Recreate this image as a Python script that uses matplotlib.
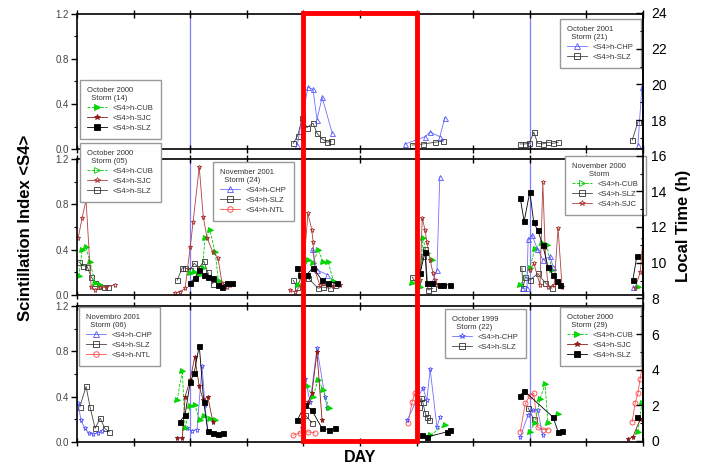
import numpy as np
import matplotlib
matplotlib.use("Agg")
import matplotlib.pyplot as plt
from matplotlib.lines import Line2D
from matplotlib.patches import Rectangle
from matplotlib.ticker import MultipleLocator, FormatStrFormatter

plt.rcParams["font.family"] = ["Liberation Sans", "DejaVu Sans"]

# days (x) and <S4> (y); None separates storm days
top_chp_day = [3.89, 4.08, 4.17, 4.24, 4.33, 4.51, None, 5.80, 6.15, 6.24, 6.41, 6.50, None, 9.91, 9.98]
top_chp_s4 = [0.035, 0.55, 0.53, 0.26, 0.46, 0.14, None, 0.045, 0.11, 0.15, 0.11, 0.28, None, 0.035, 0.55]
top_slz_day = [3.82, 3.90, 3.98, 4.06, 4.17, 4.24, 4.33, 4.42, 4.49, None,
               5.92, 6.11, 6.33, 6.47, None,
               7.83, 7.92, 7.99, 8.07, 8.14, 8.23, 8.32, 8.41, 8.50, None, 9.81, 9.91]
top_slz_s4 = [0.05, 0.12, 0.28, 0.19, 0.23, 0.14, 0.09, 0.06, 0.07, None,
              0.035, 0.045, 0.06, 0.07, None,
              0.045, 0.045, 0.05, 0.15, 0.05, 0.045, 0.06, 0.05, 0.06, None, 0.08, 0.24]

mid_sjc_day = [0.02, 0.09, 0.16, 0.25, 0.32, 0.41, 0.51, 0.67, None,
               1.73, 1.82, 1.91, 2.00, 2.05, 2.16, 2.23, 2.30, 2.40, 2.49, 2.56, 2.65, 2.70, None,
               3.76, 3.85, 3.98, 4.08, 4.15, 4.17, 4.20, 4.29, 4.42, 4.52, 4.65, None,
               6.06, 6.10, 6.15, 6.18, 6.24, 6.29, 6.33, 6.38, None,
               8.00, 8.07, 8.18, 8.23, 8.27, 8.32, 8.43, 8.50, 8.57, None,
               9.86, 9.95, 10.0]
mid_sjc_s4 = [0.50, 0.68, 0.84, 0.07, 0.044, 0.07, 0.07, 0.09, None,
              0.018, 0.026, 0.06, 0.42, 0.64, 1.13, 0.69, 0.50, 0.38, 0.33, 0.11, 0.07, 0.09, None,
              0.044, 0.026, 0.10, 0.72, 0.57, 0.47, 0.22, 0.09, 0.09, 0.08, 0.09, None,
              0.13, 0.68, 0.57, 0.47, 0.31, 0.19, 0.13, 0.09, None,
              0.22, 0.28, 0.09, 1.00, 0.42, 0.07, 0.09, 0.59, 0.07, None,
              0.06, 0.20, 0.49]
mid_cub_day = [0.035, 0.09, 0.16, 0.23, 0.32, 0.41, None,
               2.00, 2.07, 2.16, 2.22, 2.26, 2.35, 2.44, 2.50, None,
               3.90, 4.08, 4.17, 4.26, 4.35, 4.44, 4.53, None,
               5.92, 6.06, 6.11, 6.18, 6.27, None,
               7.83, 8.00, 8.09, 8.22, 8.30, 8.39, None, 9.91]
mid_cub_s4 = [0.17, 0.40, 0.42, 0.29, 0.11, 0.09, None,
              0.19, 0.20, 0.18, 0.24, 0.50, 0.57, 0.38, 0.12, None,
              0.09, 0.31, 0.28, 0.40, 0.29, 0.29, 0.12, None,
              0.11, 0.07, 0.50, 0.37, 0.31, None,
              0.09, 0.24, 0.41, 0.46, 0.44, 0.22, None, 0.07]
mid_slz_day = [2.00, 2.08, 2.16, 2.24, 2.31, 2.40, 2.49, 2.56, 2.65, 2.74, None,
               3.89, 3.94, 4.06, 4.17, 4.33, 4.43, 4.59, None,
               6.06, 6.15, 6.18, 6.27, 6.41, 6.47, 6.59, None,
               7.83, 7.90, 8.00, 8.07, 8.14, 8.23, 8.32, 8.41, 8.48, 8.53, None, 9.82, 9.89]
mid_slz_s4 = [0.11, 0.15, 0.22, 0.18, 0.16, 0.15, 0.09, 0.07, 0.11, 0.11, None,
              0.24, 0.18, 0.18, 0.24, 0.13, 0.11, 0.11, None,
              0.19, 0.38, 0.11, 0.11, 0.09, 0.09, 0.09, None,
              0.86, 0.65, 0.91, 0.64, 0.57, 0.44, 0.25, 0.18, 0.12, 0.09, None, 0.13, 0.34]
mid_slzo_day = [0.035, 0.11, 0.18, 0.25, 0.32, 0.39, 0.48, 0.55, None,
                1.77, 1.86, 1.91, 2.00, 2.07, 2.16, 2.24, 2.31, 2.40, None,
                3.82, 3.89, 3.98, 4.08, 4.26, 4.35, 4.47, 4.56, None,
                5.92, 6.01, 6.11, 6.15, 6.20, 6.29, None,
                7.86, 7.88, 7.92, 8.00, 8.14, 8.27, 8.39]
mid_slzo_s4 = [0.29, 0.26, 0.25, 0.16, 0.11, 0.08, 0.07, 0.07, None,
               0.13, 0.24, 0.24, 0.22, 0.28, 0.24, 0.30, 0.20, 0.10, None,
               0.13, 0.07, 0.18, 0.15, 0.06, 0.07, 0.06, 0.09, None,
               0.16, 0.09, 0.34, 0.41, 0.044, 0.06, None,
               0.24, 0.06, 0.16, 0.13, 0.19, 0.11, 0.06]
mid_chp_day = [4.15, 4.24, 4.42, None, 6.27, 6.36, 6.41, None,
               7.86, 7.95, 7.97, 8.04, 8.13, 8.23, 8.36, 8.41, None, 9.82]
mid_chp_s4 = [0.41, 0.22, 0.18, None, 0.11, 0.22, 1.04, None,
              0.06, 0.06, 0.49, 0.53, 0.41, 0.31, 0.34, 0.25, None, 0.07]

bot_chps_day = [0.02, 0.07, 0.14, 0.21, 0.28, 0.37, 0.44, None,
                1.94, 2.03, 2.12, 2.21, 2.26, 2.31, None,
                3.98, 4.03, 4.12, 4.24, 4.38, 4.42, None,
                5.83, 6.11, 6.18, 6.24, 6.36, 6.41, None,
                7.83, 7.97, 8.06, 8.14, 8.23]
bot_chps_s4 = [0.34, 0.19, 0.12, 0.08, 0.07, 0.08, 0.10, None,
               0.12, 0.10, 0.11, 0.67, 0.33, 0.09, None,
               0.12, 0.56, 0.35, 0.83, 0.40, 0.30, None,
               0.19, 0.48, 0.37, 0.64, 0.13, 0.22, None,
               0.044, 0.24, 0.28, 0.28, 0.06]
bot_slzo_day = [0.05, 0.16, 0.23, 0.32, 0.41, 0.49, 0.57, None,
                4.03, 4.15, None, 6.04, 6.08, 6.11, 6.15, 6.18, 6.22, None, 7.97, 8.07]
bot_slzo_s4 = [0.31, 0.49, 0.31, 0.12, 0.21, 0.12, 0.09, None,
               0.24, 0.17, None, 0.31, 0.39, 0.35, 0.26, 0.22, 0.19, None, 0.30, 0.20]
bot_cub_day = [1.77, 1.86, 1.91, 2.00, 2.08, 2.17, 2.24, 2.35, 2.44, None,
               4.06, 4.17, 4.26, 4.35, 4.45, None, 6.24, 6.50, None,
               8.00, 8.09, 8.18, 8.27, 8.32, 8.50, None, 9.91, 9.98]
bot_cub_s4 = [0.37, 0.63, 0.12, 0.32, 0.33, 0.19, 0.23, 0.20, 0.19, None,
              0.49, 0.40, 0.55, 0.46, 0.30, None, 0.06, 0.15, None,
              0.09, 0.17, 0.38, 0.51, 0.17, 0.25, None, 0.09, 0.34]
bot_sjc_day = [1.77, 1.86, 1.91, 2.00, 2.08, 2.16, 2.23, 2.31, 2.40, None,
               4.08, 4.15, 4.24, 4.33, None, 9.73, 9.82, 9.95]
bot_sjc_s4 = [0.035, 0.035, 0.40, 0.55, 0.75, 0.49, 0.37, 0.40, 0.18, None,
              0.35, 0.43, 0.79, 0.19, None, 0.026, 0.044, 0.20]
bot_slz_day = [1.82, 1.91, 2.00, 2.07, 2.16, 2.24, 2.31, 2.40, 2.49, 2.58, None,
               3.89, 4.03, 4.15, 4.33, 4.45, 4.56, None, 6.10, 6.18, 6.54, 6.59, None,
               7.83, 7.90, 8.41, 8.50, 8.57, None, 9.89]
bot_slz_s4 = [0.18, 0.24, 0.53, 0.61, 0.85, 0.35, 0.10, 0.08, 0.07, 0.08, None,
              0.19, 0.33, 0.28, 0.12, 0.11, 0.12, None, 0.06, 0.044, 0.09, 0.11, None,
              0.41, 0.45, 0.22, 0.09, 0.10, None, 0.22]
bot_ntl_day = [3.82, 3.94, 4.08, 4.20, None, 5.85, 5.92, 5.97, None,
               7.83, 7.92, 8.00, 8.07, 8.14, 8.23, 8.32, None, 9.81, 9.86, 9.91, 9.95, 10.0]
bot_ntl_s4 = [0.06, 0.08, 0.09, 0.08, None, 0.17, 0.35, 0.43, None,
              0.09, 0.34, 0.41, 0.43, 0.13, 0.11, 0.11, None, 0.18, 0.34, 0.43, 0.56, 0.71]

lt_jump_days = [2, 8]       # local-time lines (blue verticals)
box_days = [4, 6]           # highlighted interval

STYLE = {
    "CUB": dict(color="#00cc00", ls="--", marker=">", mfc="#00dd00", mec="#00cc00"),
    "CUBo": dict(color="#00cc00", ls="--", marker=">", mfc="none", mec="#00cc00"),
    "SJC": dict(color="#8b1a1a", ls="-", marker="*", mfc="#8b1a1a", mec="#8b1a1a"),
    "SJCo": dict(color="#b04040", ls="-", marker="*", mfc="none", mec="#a83232"),
    "SLZ": dict(color="black", ls="-", marker="s", mfc="black", mec="black"),
    "SLZo": dict(color="#444444", ls="-", marker="s", mfc="none", mec="#333333"),
    "CHP": dict(color="#6f6fff", ls="-", marker="^", mfc="none", mec="#5555ff"),
    "CHPs": dict(color="#6f6fff", ls="-", marker="*", mfc="none", mec="#5555ff"),
    "NTL": dict(color="#ff5050", ls="-", marker="o", mfc="none", mec="#ff4040"),
}


def _arr(v):
    return np.array([np.nan if x is None else x for x in v], dtype=float)


def _plot(ax, days, s4, key, ms=3.6):
    st = STYLE[key]
    ax.plot(_arr(days), _arr(s4), color=st["color"], ls=st["ls"], lw=0.6,
            marker=st["marker"], mfc=st["mfc"], mec=st["mec"], ms=ms, mew=0.6)


def _legend(ax, title, entries, anchor):
    handles = []
    for label, key in entries:
        st = STYLE[key]
        handles.append(Line2D([], [], color=st["color"], ls=st["ls"], lw=0.6,
                              marker=st["marker"], mfc=st["mfc"], mec=st["mec"], ms=4, mew=0.6,
                              label=label))
    leg = ax.legend(handles=handles, title=title, loc="upper left",
                    bbox_to_anchor=anchor, bbox_transform=fig.transFigure,
                    fontsize=5.5, title_fontsize=5.5, frameon=True, fancybox=False,
                    borderaxespad=0, handlelength=2.6, labelspacing=0.35,
                    borderpad=0.9, alignment="left", framealpha=1)
    leg.get_frame().set_edgecolor("#999999")
    leg.get_frame().set_linewidth(1.0)
    for t in leg.get_texts():
        t.set_color("#333333")
    leg.get_title().set_color("#333333")
    return leg


W, H = 703, 467
fig = plt.figure(figsize=(W / 100, H / 100), dpi=100)


def _px_axes(y_top, y_bot):
    return fig.add_axes([77 / W, 1 - y_bot / H, 566 / W, (y_bot - y_top) / H])


panels = [_px_axes(14, 149), _px_axes(159, 295), _px_axes(306, 442)]
for ax in panels:
    ax.set_xlim(0, 10)
    ax.set_ylim(0, 1.2)
    ax.yaxis.set_major_locator(MultipleLocator(0.4))
    ax.yaxis.set_minor_locator(MultipleLocator(0.2))
    ax.yaxis.set_major_formatter(FormatStrFormatter("%.1f"))
    ax.xaxis.set_major_locator(MultipleLocator(1))
    ax.tick_params(axis="y", which="major", direction="out", length=4, width=1,
                   labelsize=7, labelcolor="#444444", pad=2)
    ax.tick_params(axis="y", which="minor", direction="out", length=2, width=0.8)
    ax.tick_params(axis="x", which="major", direction="inout", length=6, width=1,
                   top=True, bottom=True, labelbottom=False)
    for s in ax.spines.values():
        s.set_linewidth(1.2)
    for d in lt_jump_days:
        ax.axvline(d, color="#7f7fff", lw=0.9, zorder=1)

ax_top, ax_mid, ax_bot = panels

_plot(ax_top, top_slz_day, top_slz_s4, "SLZo")
_plot(ax_top, top_chp_day, top_chp_s4, "CHP")

_plot(ax_mid, mid_slzo_day, mid_slzo_s4, "SLZo")
_plot(ax_mid, mid_cub_day, mid_cub_s4, "CUB")
_plot(ax_mid, mid_chp_day, mid_chp_s4, "CHP")
_plot(ax_mid, mid_sjc_day, mid_sjc_s4, "SJCo")
_plot(ax_mid, mid_slz_day, mid_slz_s4, "SLZ")

_plot(ax_bot, bot_slzo_day, bot_slzo_s4, "SLZo")
_plot(ax_bot, bot_ntl_day, bot_ntl_s4, "NTL")
_plot(ax_bot, bot_chps_day, bot_chps_s4, "CHPs")
_plot(ax_bot, bot_cub_day, bot_cub_s4, "CUB")
_plot(ax_bot, bot_sjc_day, bot_sjc_s4, "SJC")
_plot(ax_bot, bot_slz_day, bot_slz_s4, "SLZ")

# legends (one per storm)
l1 = _legend(ax_top, "October 2000\n  Storm (14)",
             [("<S4>h-CUB", "CUB"), ("<S4>h-SJC", "SJC"), ("<S4>h-SLZ", "SLZ")], (80 / W, 1 - 80 / H))
ax_top.add_artist(l1)
_legend(ax_top, "October 2001\n  Storm (21)",
        [("<S4>h-CHP", "CHP"), ("<S4>h-SLZ", "SLZo")], (560 / W, 1 - 19 / H))

l2 = _legend(ax_mid, "October 2000\n  Storm (05)",
             [("<S4>h-CUB", "CUBo"), ("<S4>h-SJC", "SJCo"), ("<S4>h-SLZ", "SLZo")], (80 / W, 1 - 143 / H))
ax_mid.add_artist(l2)
l3 = _legend(ax_mid, "November 2001\n  Storm (24)",
             [("<S4>h-CHP", "CHP"), ("<S4>h-SLZ", "SLZo"), ("<S4>h-NTL", "NTL")], (213 / W, 1 - 162 / H))
ax_mid.add_artist(l3)
_legend(ax_mid, "November 2000\n        Storm",
        [("<S4>h-CUB", "CUBo"), ("<S4>h-SLZ", "SLZo"), ("<S4>h-SJC", "SJCo")], (565 / W, 1 - 156 / H))

l4 = _legend(ax_bot, "Novembro 2001\n  Storm (06)",
             [("<S4>h-CHP", "CHP"), ("<S4>h-SLZ", "SLZo"), ("<S4>h-NTL", "NTL")], (79 / W, 1 - 307 / H))
ax_bot.add_artist(l4)
l5 = _legend(ax_bot, "October 1999\n  Storm (22)",
             [("<S4>h-CHP", "CHPs"), ("<S4>h-SLZ", "SLZo")], (445 / W, 1 - 309 / H))
ax_bot.add_artist(l5)
_legend(ax_bot, "October 2000\n  Storm (29)",
        [("<S4>h-CUB", "CUB"), ("<S4>h-SJC", "SJC"), ("<S4>h-SLZ", "SLZ")], (560 / W, 1 - 307 / H))

# shared local-time axis on the right
ax_lt = fig.add_axes([77 / W, 1 - 441 / H, 566 / W, 428 / H])
ax_lt.patch.set_alpha(0)
ax_lt.set_xlim(0, 10)
ax_lt.set_ylim(0, 24)
for side in ["left", "top", "bottom"]:
    ax_lt.spines[side].set_visible(False)
ax_lt.spines["right"].set_linewidth(1.2)
ax_lt.set_xticks([])
ax_lt.yaxis.tick_right()
ax_lt.yaxis.set_label_position("right")
ax_lt.yaxis.set_major_locator(MultipleLocator(2))
ax_lt.yaxis.set_minor_locator(MultipleLocator(1))
ax_lt.tick_params(axis="y", which="major", direction="in", length=5, width=1, labelsize=10, pad=6)
ax_lt.tick_params(axis="y", which="minor", direction="in", length=2.5, width=0.8)
ax_lt.add_patch(Rectangle((box_days[0], 0), box_days[1] - box_days[0], 24, fill=False,
                          edgecolor="#ff0000", lw=3.5, clip_on=False, zorder=10))

fig.text(0.036, 0.512, "Scintillation Index <S4>", rotation=90, ha="center", va="center",
         fontsize=12, fontweight="bold")
fig.text(0.972, 0.516, "Local Time (h)", rotation=90, ha="center", va="center",
         fontsize=12, fontweight="bold")
fig.text(360 / W, 1 - 458 / H, "DAY", ha="center", va="center", fontsize=11.5, fontweight="bold")

fig.savefig("out.png", dpi=100)
